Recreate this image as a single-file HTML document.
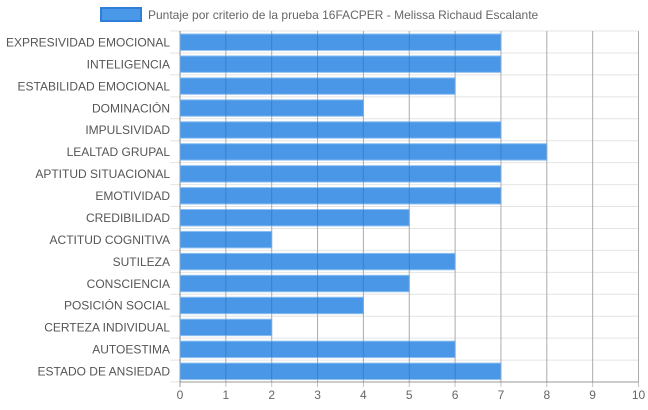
<!DOCTYPE html>
<html><head><meta charset="utf-8"><style>
html,body{margin:0;padding:0;background:#fff;}
svg{display:block;font-family:"Liberation Sans",Arial,sans-serif;}
</style></head><body>
<svg id="chart" width="648" height="410">
<g>
<rect x="101" y="8" width="40" height="13" fill="#4a98e8" stroke="#2f7fd8" stroke-width="2"/>
<text x="148" y="19" font-size="12" fill="#666">Puntaje por criterio de la prueba 16FACPER - Melissa Richaud Escalante</text>
</g>
<g id="grid"></g><g id="bars"></g><g id="labels"></g>
</svg>
<script>
const categories=["EXPRESIVIDAD EMOCIONAL","INTELIGENCIA","ESTABILIDAD EMOCIONAL","DOMINACIÓN","IMPULSIVIDAD","LEALTAD GRUPAL","APTITUD SITUACIONAL","EMOTIVIDAD","CREDIBILIDAD","ACTITUD COGNITIVA","SUTILEZA","CONSCIENCIA","POSICIÓN SOCIAL","CERTEZA INDIVIDUAL","AUTOESTIMA","ESTADO DE ANSIEDAD"];
const values=[7,7,6,4,7,8,7,7,5,2,6,5,4,2,6,7];
const ticks=[0,1,2,3,4,5,6,7,8,9,10];
const NS="http://www.w3.org/2000/svg";
const L=180,R=638.5,T=31,B=382,xMax=10;
const x=v=>L+(R-L)*v/xMax;
const band=(B-T)/categories.length;
const y=i=>T+band*i;
const grid=document.getElementById('grid'),bars=document.getElementById('bars'),labels=document.getElementById('labels');
function mk(tag,attrs,parent){const e=document.createElementNS(NS,tag);for(const k in attrs)e.setAttribute(k,attrs[k]);parent.appendChild(e);return e;}
for(let i=0;i<=categories.length;i++){
 const l=mk('line',{x1:170,x2:R,y1:y(i),y2:y(i),stroke:'#e4e4e4','stroke-width':1},grid);
 
 
}
ticks.forEach(t=>{
 const l=mk('line',{x1:x(t),x2:x(t),y1:T,y2:B+5,stroke:t===0?'#999':'#c4c4c4','stroke-width':1},grid);
 
 
 const tx=mk('text',{x:x(t),y:B+17,'font-size':12,fill:'#666','text-anchor':'middle'},labels);
 tx.textContent=t;
 
 
});
mk('line',{x1:L,x2:R,y1:B,y2:B,stroke:'#999','stroke-width':1},grid);
categories.forEach((c,i)=>{
 const r=mk('rect',{x:L,y:y(i)+3,width:x(values[i])-L,height:band-5.5,fill:'rgba(54,140,230,0.9)',stroke:'#8ec1f0','stroke-width':1},bars);
 
 
 const tx=mk('text',{x:170,y:y(i)+band/2+4.5,'font-size':12,fill:'#555','text-anchor':'end'},labels);
 tx.textContent=c;
 
 
});
ticks.forEach(t=>{
 const l=mk('line',{x1:x(t),x2:x(t),y1:T,y2:B,stroke:'rgba(0,0,0,0.12)','stroke-width':1},bars);
 
 
});
</script>
</body></html>
